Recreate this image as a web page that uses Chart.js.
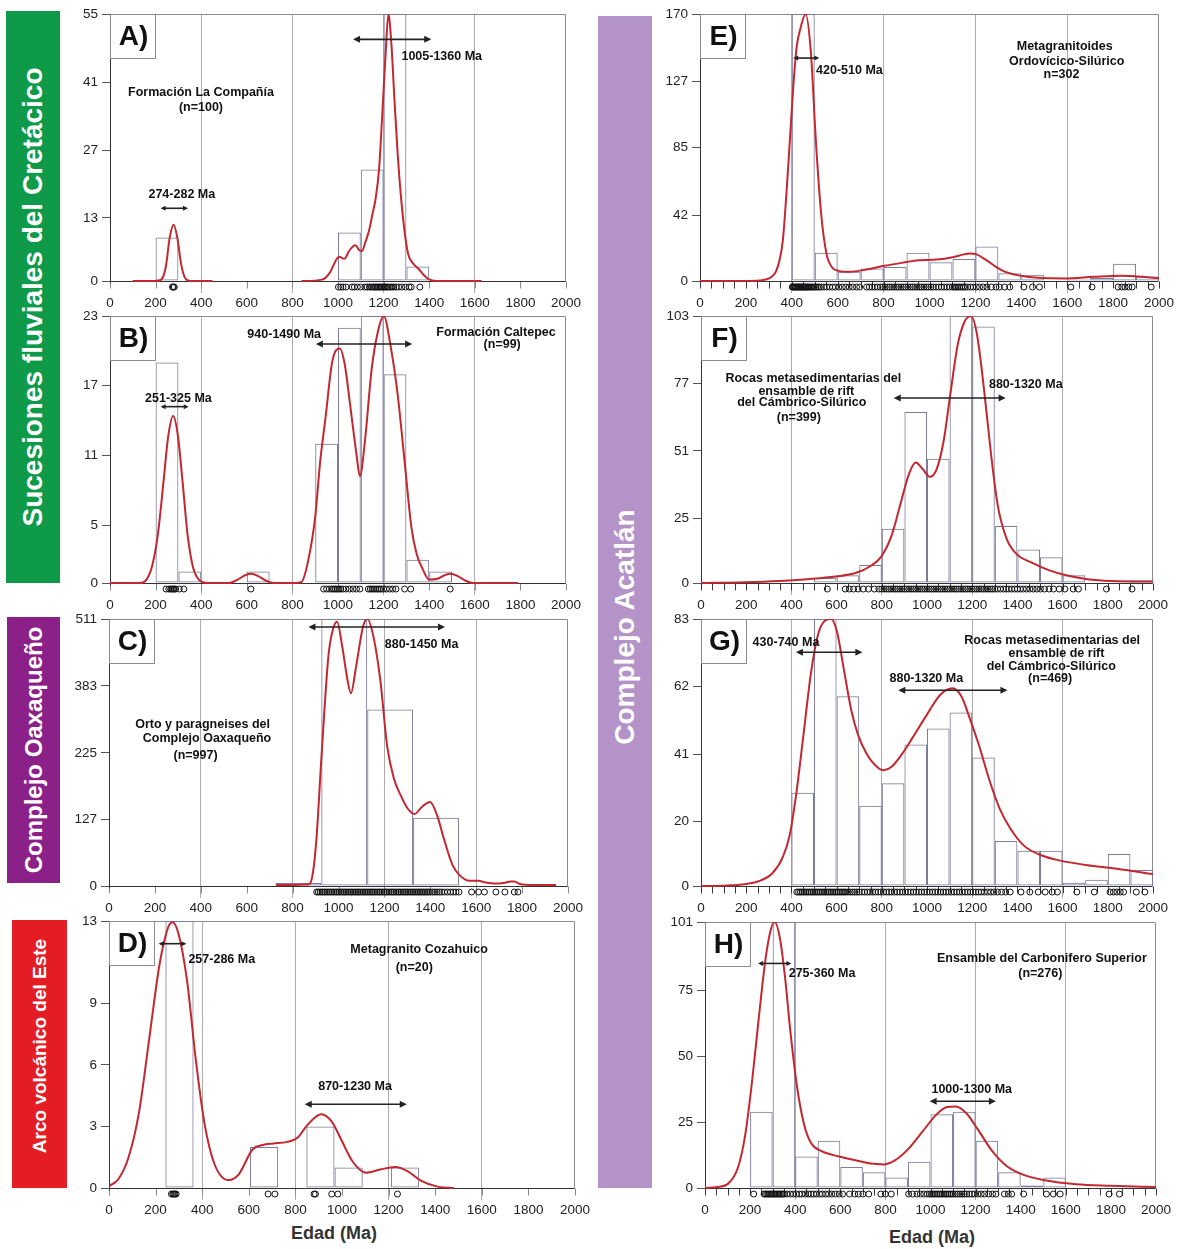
<!DOCTYPE html>
<html>
<head>
<meta charset="utf-8">
<script src="https://cdn.jsdelivr.net/npm/chart.js@4.4.1/dist/chart.umd.min.js"></script>
<style>
  body { margin:0; background:#fff; width:1188px; height:1249px; position:relative; overflow:hidden;
         font-family:"Liberation Sans", Arial, sans-serif; }
  .panel { position:absolute; }
  .side { position:absolute; }
  .side span { position:absolute; left:50%; transform:translate(-50%,-50%) rotate(-90deg);
               white-space:nowrap; color:#fff; font-weight:bold; }
  .xtitle { position:absolute; transform:translate(-50%,-50%); font-weight:bold; font-size:18px;
            color:#333; white-space:nowrap; }
</style>
</head>
<body>

<div class="side" style="left:6px;top:11px;width:54px;height:572px;background:#0f9a4a">
  <span style="top:50%;font-size:28px">Sucesiones fluviales del Cretácico</span></div>
<div class="side" style="left:7px;top:617px;width:53px;height:266px;background:#8b2088">
  <span style="top:50%;font-size:24px">Complejo Oaxaqueño</span></div>
<div class="side" style="left:12px;top:920px;width:55px;height:268px;background:#e41c24">
  <span style="top:47%;font-size:19px">Arco volcánico del Este</span></div>
<div class="side" style="left:598px;top:16px;width:54px;height:1172px;background:#b493c8">
  <span style="top:611px;font-size:28px">Complejo Acatlán</span></div>

<div class="xtitle" style="left:334px;top:1233px">Edad (Ma)</div>
<div class="xtitle" style="left:932px;top:1237px">Edad (Ma)</div>

<script>
// ---------- A) Formación La Compañía ----------
const A_Y_TICKS = [0, 13, 27, 41, 55];
const A_BIN_WIDTH = 100;
const A_BIN_START = [200, 1000, 1100, 1200, 1300];
const A_BIN_COUNT = [9, 10, 23, 55, 3];
const A_CURVE = [[100,0],[200,0],[225,0.3],[245,3],[262,9],[279,11.6],[295,9],[312,3.5],[330,0.6],[355,0],[450,0],[460,null],
  [840,0],[930,0.3],[965,1.8],[990,4.2],[1005,5.0],[1028,4.6],[1050,6.3],[1076,7.4],[1095,6.3],[1105,6.2],[1120,8.0],
  [1135,10.2],[1150,13.5],[1165,17],[1180,23],[1195,35],[1209,47],[1221,55],[1234,49],[1248,37],[1262,26],[1275,18],
  [1290,11],[1307,5.7],[1330,3.6],[1352,2.6],[1375,1.3],[1397,0.4],[1430,0],[1630,0]];
const A_AGES = [274, 278, 282, 1002, 1012, 1022, 1035, 1062, 1072, 1085, 1099, 1118, 1128, 1138, 1146, 1154, 1160, 1166,
  1172, 1178, 1184, 1190, 1196, 1202, 1208, 1214, 1220, 1228, 1236, 1244, 1254, 1266, 1280, 1296, 1312, 1321, 1359];
const A_NOTES = [
  {x:399, y:38.9, text:'Formación La Compañía'}, {x:399, y:35.7, text:'(n=100)'},
  {x:315, y:17.9, text:'274-282 Ma'}, {x:1455, y:46.2, text:'1005-1360 Ma'}];
const A_ARROWS = [{from:222, to:342, y:15.0}, {from:1066, to:1409, y:49.8}];

// ---------- B) Formación Caltepec ----------
const B_Y_TICKS = [0, 5, 11, 17, 23];
const B_BIN_WIDTH = 100;
const B_BIN_START = [200, 300, 600, 900, 1000, 1100, 1200, 1300, 1400];
const B_BIN_COUNT = [19, 1, 1, 12, 22, 23, 18, 2, 1];
const B_CURVE = [[0,0],[130,0],[160,0.3],[185,1.5],[210,4.2],[235,8.8],[255,12.6],[277,14.4],[297,12.8],[318,8.8],
  [340,4.2],[365,1.3],[395,0.2],[430,0],[520,0],[560,0.3],[595,0.7],[621,0.8],[650,0.6],[685,0.2],[720,0],[810,0],
  [840,0.1],[870,2],[900,5.7],[922,10.5],[945,14.2],[975,19.1],[1008,20.2],[1030,18.8],[1051,15.7],[1081,11.1],
  [1096,9.2],[1118,12.2],[1148,18.5],[1179,22],[1201,23],[1230,20.5],[1262,16.2],[1292,10.5],[1322,4.8],[1345,2.5],
  [1367,1.4],[1400,0.3],[1440,0.4],[1470,0.7],[1495,0.8],[1525,0.6],[1560,0.2],[1593,0],[1790,0]];
const B_AGES = [246, 258, 266, 272, 277, 282, 288, 304, 324, 618, 937, 950, 962, 972, 980, 988, 996, 1004, 1012, 1022,
  1035, 1050, 1066, 1081, 1096, 1133, 1142, 1150, 1158, 1166, 1174, 1182, 1190, 1200, 1212, 1226, 1240, 1254, 1292,
  1319, 1492];
const B_NOTES = [
  {x:764, y:21.4, text:'940-1490 Ma'}, {x:300, y:15.9, text:'251-325 Ma'},
  {x:1693, y:21.6, text:'Formación Caltepec'}, {x:1720, y:20.55, text:'(n=99)'}];
const B_ARROWS = [{from:903, to:1325, y:20.6}, {from:222, to:345, y:15.2}];

// ---------- C) Orto y paragneises del Complejo Oaxaqueño ----------
const C_Y_TICKS = [0, 127, 255, 383, 511];
const C_Y_LABELS = ['0', '127', '225', '383', '511'];
const C_BIN_WIDTH = 200;
const C_BIN_START = [725, 925, 1125, 1325];
const C_BIN_COUNT = [6, 511, 338, 131];
const C_CURVE = [[728,2],[800,2],[850,3],[874,4],[889,27],[904,91],[926,249],[956,440],[975,490],[994,506],[1016,459],
  [1039,395],[1054,369],[1077,421],[1107,497],[1126,511],[1152,478],[1182,395],[1212,268],[1242,205],[1272,173],
  [1302,148],[1332,138],[1362,151],[1399,161],[1430,135],[1459,91],[1497,40],[1527,21],[1572,10],[1610,10],[1640,7],
  [1677,5],[1720,6],[1750,9],[1767,9],[1790,4],[1850,2],[1948,2]];
const C_AGES = [905, 912, 920, 928, 935, 942, 950, 957, 965, 972, 980, 988, 995, 1002, 1010, 1018, 1025, 1032, 1040,
  1048, 1055, 1062, 1070, 1078, 1085, 1092, 1100, 1108, 1115, 1122, 1130, 1138, 1145, 1152, 1160, 1168, 1175, 1182,
  1190, 1198, 1205, 1212, 1220, 1228, 1235, 1242, 1250, 1258, 1265, 1272, 1280, 1288, 1295, 1302, 1310, 1318, 1325,
  1332, 1340, 1348, 1355, 1362, 1370, 1378, 1385, 1392, 1400, 1410, 1420, 1430, 1440, 1450, 1462, 1475, 1488, 1500,
  1512, 1525, 1580, 1610, 1636, 1686, 1725, 1766, 1782];
const C_NOTES = [
  {x:1362, y:462, text:'880-1450 Ma'}, {x:408, y:310, text:'Orto y paragneises del'},
  {x:427, y:283, text:'Complejo Oaxaqueño'}, {x:377, y:249, text:'(n=997)'}];
const C_ARROWS = [{from:869, to:1464, y:496}];

// ---------- D) Metagranito Cozahuico ----------
const D_Y_TICKS = [0, 3, 6, 9, 13];
const D_BIN_WIDTH = 121;
const D_BIN_START = [242, 605, 847, 968, 1210];
const D_BIN_COUNT = [13, 2, 3, 1, 1];
const D_CURVE = [[0,0.1],[40,0.43],[84,1.5],[129,3.7],[173,7.3],[217,10.9],[254,12.7],[273,12.95],[298,12.4],[335,10.1],
  [372,6.3],[409,3.2],[453,1.16],[513,0.39],[557,0.67],[616,1.88],[660,2.1],[705,2.17],[764,2.25],[808,2.44],
  [852,3.08],[911,3.6],[956,3.24],[1000,2.28],[1044,1.32],[1103,0.75],[1163,0.9],[1229,1.03],[1281,0.83],[1340,0.35],
  [1414,0.06],[1480,0]];
const D_AGES = [268, 274, 279, 283, 288, 683, 712, 880, 886, 956, 982, 1238];
const D_NOTES = [
  {x:484, y:11.14, text:'257-286 Ma'}, {x:1056, y:4.93, text:'870-1230 Ma'},
  {x:1331, y:11.6, text:'Metagranito Cozahuico'}, {x:1310, y:10.74, text:'(n=20)'}];
const D_ARROWS = [{from:213, to:332, y:11.9}, {from:840, to:1278, y:4.08}];

// ---------- E) Metagranitoides Ordovícico-Silúrico ----------
const E_Y_TICKS = [0, 42, 85, 127, 170];
const E_BIN_WIDTH = 100;
const E_BIN_START = [400, 500, 600, 700, 800, 900, 1000, 1100, 1200, 1300, 1400, 1600, 1700, 1800, 1900];
const E_BIN_COUNT = [170, 18, 6, 8, 9, 18, 12, 14, 22, 5, 4, 1, 2, 11, 3];
const E_CURVE = [[0,0],[193,0],[260,0.3],[285,1],[310,2.5],[330,5.9],[346,13],[361,25.9],[384,72],[407,125],[422,150],
  [437,160.5],[460,170],[483,146],[505,89],[528,42.7],[551,17.5],[574,9],[604,6.5],[650,5.9],[726,7.4],[802,9.7],
  [878,11.6],[954,13.3],[1030,13.7],[1106,15.4],[1150,17],[1175,17.5],[1205,17],[1230,15],[1259,12.2],[1290,9],
  [1320,6.5],[1350,5],[1381,3.8],[1472,2.1],[1594,1.7],[1716,2.7],[1837,3.4],[1929,2.7],[2000,1.7]];
const E_AGES = [402, 406, 410, 414, 418, 422, 426, 430, 434, 438, 442, 446, 450, 454, 458, 462, 466, 470, 475, 480, 486,
  492, 498, 505, 512, 520, 528, 540, 552, 565, 578, 590, 605, 620, 635, 650, 665, 682, 696, 726, 738, 750, 762, 774,
  786, 796, 806, 816, 826, 836, 846, 856, 866, 876, 886, 896, 906, 916, 926, 936, 946, 956, 966, 976, 986, 996, 1006,
  1016, 1028, 1040, 1052, 1064, 1076, 1088, 1100, 1108, 1116, 1124, 1132, 1140, 1148, 1156, 1166, 1178, 1190, 1204,
  1218, 1234, 1250, 1270, 1290, 1304, 1327, 1350, 1411, 1449, 1479, 1616, 1708, 1822, 1838, 1852, 1868, 1883, 1966];
const E_NOTES = [
  {x:651, y:134, text:'420-510 Ma'}, {x:1589, y:149.4, text:'Metagranitoides'},
  {x:1598, y:140, text:'Ordovícico-Silúrico'}, {x:1575, y:131.5, text:'n=302'}];
const E_ARROWS = [{from:406, to:520, y:142}];

// ---------- F) Rocas metasedimentarias (n=399) ----------
const F_Y_TICKS = [0, 25, 51, 77, 103];
const F_BIN_WIDTH = 100;
const F_BIN_START = [500, 600, 700, 800, 900, 1000, 1100, 1200, 1300, 1400, 1500, 1600, 1900];
const F_BIN_COUNT = [2, 3, 7, 21, 66, 48, 103, 99, 22, 13, 10, 3, 1];
const F_CURVE = [[0,0],[192,0.3],[347,0.8],[471,1.5],[594,2.5],[687,4],[749,6.5],[796,10],[842,18],[881,30],[920,42],
  [950,46.5],[981,44],[1012,41],[1043,44],[1074,55],[1105,74],[1136,92],[1167,101],[1195,103],[1221,96],[1252,75],
  [1283,50],[1313,30],[1353,17],[1399,11],[1461,8],[1539,5],[1616,3],[1709,1.5],[1817,0.8],[2000,0.6]];
const F_AGES = [559, 638, 656, 675, 695, 718, 741, 767, 787, 800, 810, 820, 830, 840, 850, 860, 870, 880, 890, 900, 910,
  920, 930, 940, 950, 960, 970, 980, 990, 1000, 1010, 1020, 1030, 1040, 1050, 1060, 1070, 1080, 1090, 1100, 1110, 1120,
  1130, 1140, 1150, 1160, 1170, 1180, 1190, 1200, 1210, 1220, 1230, 1240, 1250, 1260, 1270, 1280, 1290, 1300, 1312,
  1325, 1338, 1350, 1362, 1375, 1388, 1400, 1413, 1426, 1440, 1455, 1470, 1486, 1502, 1520, 1540, 1560, 1585, 1610,
  1647, 1670, 1794, 1907];
const F_NOTES = [
  {x:497, y:78.8, text:'Rocas metasedimentarias del'}, {x:466, y:73.9, text:'ensamble de rift'},
  {x:446, y:69.5, text:'del Cámbrico-Silúrico'}, {x:433, y:63.7, text:'(n=399)'},
  {x:1437, y:76.7, text:'880-1320 Ma'}];
const F_ARROWS = [{from:853, to:1348, y:71.4}];

// ---------- G) Rocas metasedimentarias (n=469) ----------
const G_Y_TICKS = [0, 20, 41, 62, 83];
const G_BIN_WIDTH = 100;
const G_BIN_START = [400, 500, 600, 700, 800, 900, 1000, 1100, 1200, 1300, 1400, 1500, 1600, 1700, 1800, 1900];
const G_BIN_COUNT = [29, 83, 59, 25, 32, 44, 49, 54, 40, 14, 11, 11, 1, 2, 10, 5];
const G_CURVE = [[0,0],[115,0.2],[192,0.6],[254,1.5],[316,4],[362,9],[393,16],[424,30],[455,48],[486,66],[517,78],
  [548,82.5],[576,83],[602,79],[633,67],[664,55],[695,47],[734,41],[772,37.5],[807,36],[842,37],[889,41],[935,46],
  [997,53],[1059,59.5],[1113,61.5],[1152,59],[1190,52],[1229,44],[1276,33],[1322,24],[1368,18],[1430,12.5],
  [1508,9.5],[1585,8],[1709,6.5],[1833,5.5],[2000,3.7]];
const G_AGES = [424, 432, 440, 448, 456, 464, 472, 480, 488, 496, 504, 512, 520, 528, 536, 544, 552, 560, 568, 576, 584,
  592, 600, 608, 616, 624, 632, 640, 650, 660, 670, 680, 690, 700, 712, 724, 736, 748, 760, 772, 784, 796, 808, 820,
  832, 844, 856, 868, 880, 892, 904, 916, 928, 940, 952, 964, 976, 988, 1000, 1012, 1024, 1036, 1048, 1060, 1072,
  1084, 1096, 1108, 1120, 1132, 1144, 1156, 1168, 1180, 1192, 1204, 1216, 1228, 1240, 1254, 1268, 1282, 1296, 1312,
  1330, 1348, 1368, 1416, 1455, 1492, 1523, 1554, 1577, 1663, 1740, 1810, 1825, 1840, 1855, 1870, 1926, 1964];
const G_NOTES = [
  {x:376, y:75.8, text:'430-740 Ma'}, {x:997, y:64.5, text:'880-1320 Ma'},
  {x:1554, y:76.3, text:'Rocas metasedimentarias del'}, {x:1573, y:72.3, text:'ensamble de rift'},
  {x:1550, y:68.4, text:'del Cámbrico-Silúrico'}, {x:1545, y:64.5, text:'(n=469)'}];
const G_ARROWS = [{from:420, to:714, y:72.7}, {from:873, to:1356, y:60.9}];

// ---------- H) Ensamble del Carbonifero Superior ----------
const H_Y_TICKS = [0, 25, 50, 75, 101];
const H_BIN_WIDTH = 100;
const H_BIN_START = [200, 300, 400, 500, 600, 700, 800, 900, 1000, 1100, 1200, 1300, 1400, 1500];
const H_BIN_COUNT = [29, 101, 12, 18, 8, 6, 4, 10, 28, 29, 18, 6, 1, 4];
const H_CURVE = [[0,0],[54,0.4],[100,1.5],[147,8],[178,20],[208,40],[239,65],[270,88],[293,98.5],[309,101],[332,95],
  [355,80],[378,60],[409,38],[440,24],[471,17],[517,14],[595,12],[672,10.5],[734,9.3],[795,9],[842,10.5],[903,15],
  [965,21.5],[1027,28],[1073,30.8],[1112,31],[1158,28.5],[1212,22],[1274,14],[1336,8.5],[1413,5],[1506,3],
  [1645,1.5],[1799,0.9],[2000,0.4]];
const H_AGES = [216, 262, 268, 274, 280, 286, 292, 298, 304, 310, 316, 322, 328, 334, 340, 346, 352, 363, 378, 392, 405,
  418, 430, 445, 458, 470, 482, 495, 508, 520, 535, 548, 562, 578, 595, 610, 641, 664, 680, 700, 726, 780, 800, 826,
  903, 920, 940, 955, 970, 985, 996, 1004, 1012, 1020, 1028, 1036, 1044, 1052, 1060, 1068, 1076, 1084, 1092, 1100,
  1110, 1120, 1130, 1140, 1150, 1160, 1172, 1184, 1196, 1210, 1225, 1240, 1258, 1275, 1290, 1328, 1345, 1360, 1413,
  1514, 1545, 1575, 1792, 1838];
const H_NOTES = [
  {x:519, y:81.6, text:'275-360 Ma'}, {x:1183, y:37.4, text:'1000-1300 Ma'},
  {x:1494, y:87.2, text:'Ensamble del Carbonifero Superior'}, {x:1487, y:81.6, text:'(n=276)'}];
const H_ARROWS = [{from:235, to:383, y:85.3}, {from:996, to:1290, y:33}];

// Vertical reference lines on every panel
const GRID_AGES = [400, 800, 1200, 1600];

const NARROW = '"Liberation Sans Narrow", "Arial Narrow", "Liberation Sans", Arial, sans-serif';
const SANS = '"Liberation Sans", Arial, sans-serif';
Chart.defaults.font.family = SANS;

const PANELS = [
  {letter:'A)', rect:{left:110, top:12, right:566, bottom:281}, yTicks:A_Y_TICKS, yLabels:A_Y_TICKS.map(String),
   binW:A_BIN_WIDTH, binStart:A_BIN_START, binCount:A_BIN_COUNT, curve:A_CURVE, ages:A_AGES, notes:A_NOTES, arrows:A_ARROWS, minor:200},
  {letter:'B)', rect:{left:110, top:314, right:566, bottom:583}, yTicks:B_Y_TICKS, yLabels:B_Y_TICKS.map(String),
   binW:B_BIN_WIDTH, binStart:B_BIN_START, binCount:B_BIN_COUNT, curve:B_CURVE, ages:B_AGES, notes:B_NOTES, arrows:B_ARROWS, minor:200},
  {letter:'C)', rect:{left:109, top:617, right:568, bottom:886}, yTicks:C_Y_TICKS, yLabels:C_Y_LABELS,
   binW:C_BIN_WIDTH, binStart:C_BIN_START, binCount:C_BIN_COUNT, curve:C_CURVE, ages:C_AGES, notes:C_NOTES, arrows:C_ARROWS, minor:200},
  {letter:'D)', rect:{left:109, top:919, right:575, bottom:1188}, yTicks:D_Y_TICKS, yLabels:D_Y_TICKS.map(String),
   binW:D_BIN_WIDTH, binStart:D_BIN_START, binCount:D_BIN_COUNT, curve:D_CURVE, ages:D_AGES, notes:D_NOTES, arrows:D_ARROWS, minor:200},
  {letter:'E)', rect:{left:700, top:12, right:1159, bottom:281}, yTicks:E_Y_TICKS, yLabels:E_Y_TICKS.map(String),
   binW:E_BIN_WIDTH, binStart:E_BIN_START, binCount:E_BIN_COUNT, curve:E_CURVE, ages:E_AGES, notes:E_NOTES, arrows:E_ARROWS, minor:50},
  {letter:'F)', rect:{left:701, top:314, right:1153, bottom:583}, yTicks:F_Y_TICKS, yLabels:F_Y_TICKS.map(String),
   binW:F_BIN_WIDTH, binStart:F_BIN_START, binCount:F_BIN_COUNT, curve:F_CURVE, ages:F_AGES, notes:F_NOTES, arrows:F_ARROWS, minor:50},
  {letter:'G)', rect:{left:701, top:617, right:1153, bottom:886}, yTicks:G_Y_TICKS, yLabels:G_Y_TICKS.map(String),
   binW:G_BIN_WIDTH, binStart:G_BIN_START, binCount:G_BIN_COUNT, curve:G_CURVE, ages:G_AGES, notes:G_NOTES, arrows:G_ARROWS, minor:50},
  {letter:'H)', rect:{left:705, top:920, right:1156, bottom:1188}, yTicks:H_Y_TICKS, yLabels:H_Y_TICKS.map(String),
   binW:H_BIN_WIDTH, binStart:H_BIN_START, binCount:H_BIN_COUNT, curve:H_CURVE, ages:H_AGES, notes:H_NOTES, arrows:H_ARROWS, minor:50}
];

// Frame, zero line, minor ticks, labels, range arrows and the panel letter box
function makeDecor(p) {
  return {
    id: 'panelDecor',
    beforeDatasetsDraw(chart) {
      const {ctx, chartArea: a} = chart;
      const xs = chart.scales.x, ys = chart.scales.y;
      const y0 = Math.round(ys.getPixelForValue(0)) + 0.5;
      const top = Math.round(a.top) + 0.5, left = Math.round(a.left) + 0.5, right = Math.round(a.right) - 0.5;
      ctx.save();
      ctx.lineWidth = 1;
      ctx.strokeStyle = '#8c8c8c';
      ctx.beginPath(); ctx.moveTo(left, top); ctx.lineTo(right, top); ctx.lineTo(right, y0); ctx.stroke();
      ctx.strokeStyle = p.minor === 50 ? '#3a3a3a' : '#8a8a8a';
      ctx.beginPath();
      for (let v = 0; v <= 2000; v += p.minor) {
        const px = Math.round(xs.getPixelForValue(v)) + 0.5;
        ctx.moveTo(px, y0); ctx.lineTo(px, y0 + 7);
      }
      ctx.stroke();
      ctx.strokeStyle = '#333';
      ctx.beginPath(); ctx.moveTo(left, top); ctx.lineTo(left, y0 + 2);
      ctx.moveTo(left, y0); ctx.lineTo(right, y0); ctx.stroke();
      ctx.restore();
    },
    afterDatasetsDraw(chart) {
      const {ctx, chartArea: a} = chart;
      const xs = chart.scales.x, ys = chart.scales.y;
      ctx.save();
      // range arrows
      ctx.strokeStyle = '#222'; ctx.fillStyle = '#222'; ctx.lineWidth = 1.6;
      p.arrows.forEach(ar => {
        const x1 = xs.getPixelForValue(ar.from), x2 = xs.getPixelForValue(ar.to), y = ys.getPixelForValue(ar.y);
        const head = (x2 - x1) > 60 ? 7 : 5;
        ctx.beginPath(); ctx.moveTo(x1 + 2, y); ctx.lineTo(x2 - 2, y); ctx.stroke();
        ctx.beginPath(); ctx.moveTo(x1, y); ctx.lineTo(x1 + head, y - head / 2); ctx.lineTo(x1 + head, y + head / 2); ctx.closePath(); ctx.fill();
        ctx.beginPath(); ctx.moveTo(x2, y); ctx.lineTo(x2 - head, y - head / 2); ctx.lineTo(x2 - head, y + head / 2); ctx.closePath(); ctx.fill();
      });
      // text labels
      ctx.font = 'bold 12.5px ' + SANS;
      ctx.fillStyle = '#111'; ctx.textAlign = 'center'; ctx.textBaseline = 'middle';
      p.notes.forEach(n => ctx.fillText(n.text, xs.getPixelForValue(n.x), ys.getPixelForValue(n.y)));
      // panel letter
      const bx = Math.round(a.left) + 0.5, by = Math.round(a.top) + 0.5;
      ctx.fillStyle = '#fff'; ctx.fillRect(bx, by, 45, 44);
      ctx.strokeStyle = '#8c8c8c'; ctx.lineWidth = 1; ctx.strokeRect(bx, by, 45, 44);
      ctx.fillStyle = '#111'; ctx.font = 'bold 28px ' + SANS;
      ctx.fillText(p.letter, bx + 23, by + 23);
      ctx.restore();
    }
  };
}

const PAD_L = 62, PAD_T = 10, PAD_R = 30, BAND = 12, X_H = 24;

PANELS.forEach(p => {
  const plotW = p.rect.right - p.rect.left, plotH = p.rect.bottom - p.rect.top;
  const W = plotW + PAD_L + PAD_R, H = plotH + PAD_T + BAND + X_H;
  const div = document.createElement('div');
  div.className = 'panel';
  div.style.left = (p.rect.left - PAD_L) + 'px';
  div.style.top = (p.rect.top - PAD_T) + 'px';
  div.style.width = W + 'px'; div.style.height = H + 'px';
  const canvas = document.createElement('canvas');
  canvas.width = W; canvas.height = H;
  div.appendChild(canvas);
  document.body.appendChild(div);

  const yMax = p.yTicks[p.yTicks.length - 1];
  const yMin = -yMax * BAND / plotH;

  new Chart(canvas, {
    type: 'line',
    data: {
      datasets: [
        { type: 'line', data: p.curve.map(([x, y]) => ({x, y})), borderColor: '#c3272f', borderWidth: 2,
          pointRadius: 0, cubicInterpolationMode: 'monotone', spanGaps: false, order: 0 },
        { type: 'scatter', data: p.ages.map(a => ({x: a, y: yMin / 2})), pointRadius: 3, pointBorderWidth: 1,
          pointBorderColor: '#111', pointBackgroundColor: 'rgba(255,255,255,0)', showLine: false, order: 1 },
        { type: 'bar', data: p.binStart.map((s, i) => ({x: s + p.binW / 2, y: p.binCount[i]})),
          backgroundColor: 'rgba(0,0,0,0)', borderColor: '#7c7c9e', borderWidth: 1, borderSkipped: false,
          inflateAmount: 0, barPercentage: 1, categoryPercentage: 1, order: 2 }
      ]
    },
    options: {
      responsive: false, animation: false, devicePixelRatio: 1,
      layout: { padding: { top: PAD_T, right: PAD_R, left: 0, bottom: 0 } },
      plugins: { legend: { display: false }, tooltip: { enabled: false } },
      scales: {
        x: {
          type: 'linear', min: 0, max: 2000, offset: false,
          afterFit: s => { s.height = X_H; },
          ticks: { stepSize: 200, autoSkip: false, maxRotation: 0, padding: 2, color: '#222',
                   callback: v => String(v), font: { family: NARROW, size: 13.5 } },
          grid: { drawTicks: false, offset: false, lineWidth: 1,
                  color: c => (c.tick && GRID_AGES.includes(c.tick.value)) ? '#ababab' : 'rgba(0,0,0,0)' },
          border: { display: false }
        },
        y: {
          min: yMin, max: yMax,
          afterFit: s => { s.width = PAD_L; },
          afterBuildTicks: s => { s.ticks = p.yTicks.map(v => ({value: v})); },
          ticks: { callback: (v, i) => p.yLabels[i], padding: 4, color: '#222', font: { family: NARROW, size: 13.5 } },
          grid: { drawOnChartArea: false, drawTicks: true, tickLength: 8, tickColor: '#555' },
          border: { display: false }
        }
      }
    },
    plugins: [makeDecor(p)]
  });
});
</script>
</body>
</html>
